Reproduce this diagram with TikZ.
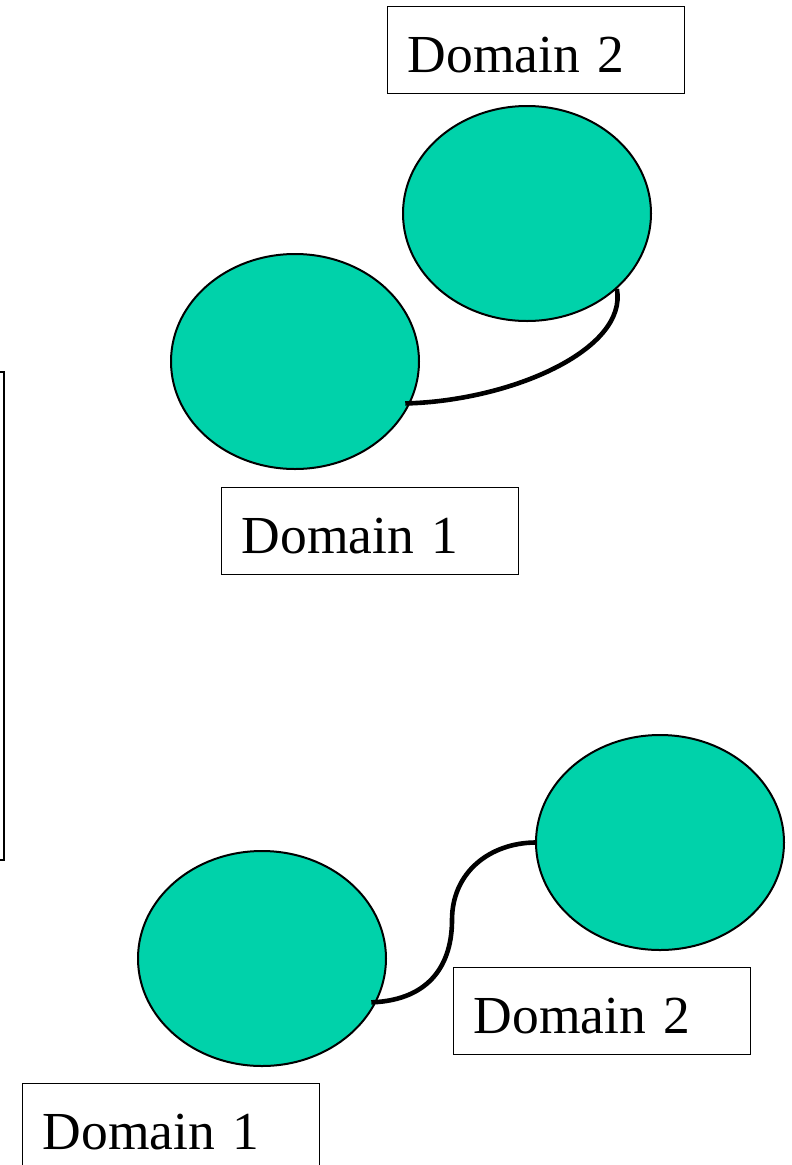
\documentclass[tikz,border=0pt]{standalone}
\usepackage{fontspec}
\setmainfont{Liberation Serif}
\usetikzlibrary{shapes.geometric}
\definecolor{domfill}{RGB}{0,210,170}
\begin{document}
\begin{tikzpicture}[x=1pt,y=-1pt,
  dom/.style={ellipse, draw=black, line width=2pt, fill=domfill, minimum width=248pt, minimum height=215pt, inner sep=0pt},
  dbox/.style={draw=black, line width=1.4pt, fill=white, anchor=north west, inner xsep=20pt, inner ysep=0pt,
    text width=257pt, align=left, text height=66pt, text depth=21pt, font=\fontsize{53.5}{60}\selectfont},
  link/.style={line width=4.6pt, line cap=butt}]
\useasboundingbox (0,0) rectangle (792,1165);
\clip (0,0) rectangle (792,1165);
% left partial box
\node[draw=black, line width=1.6pt, anchor=north east, minimum width=120pt, minimum height=488pt, inner sep=0pt] (lb) at (5,371) {};
% top pair
\node[dbox] (tb2) at (387,6) {Domain 2};
\node[dom] (t2) at (527,213.5) {};
\node[dom] (t1) at (295,361.5) {};
\node[dbox] (tb1) at (221,487) {Domain 1};
\draw[link] ([xshift=-5pt]t1.-20) .. controls (510,401) and (628,350) .. (t2.-40.6);
% bottom pair
\node[dom] (b2) at (660,842.5) {};
\node[dom] (b1) at (262,958.5) {};
\node[dbox] (bb2) at (453,967) {Domain 2};
\node[dbox] (bb1) at (22,1083) {Domain 1};
\draw[link] ([xshift=-5pt]b1.-21.5) .. controls (432,1000) and (452,962) .. (452,920)
  .. controls (452,872) and (490,843) .. (b2.west);
\end{tikzpicture}
\end{document}
